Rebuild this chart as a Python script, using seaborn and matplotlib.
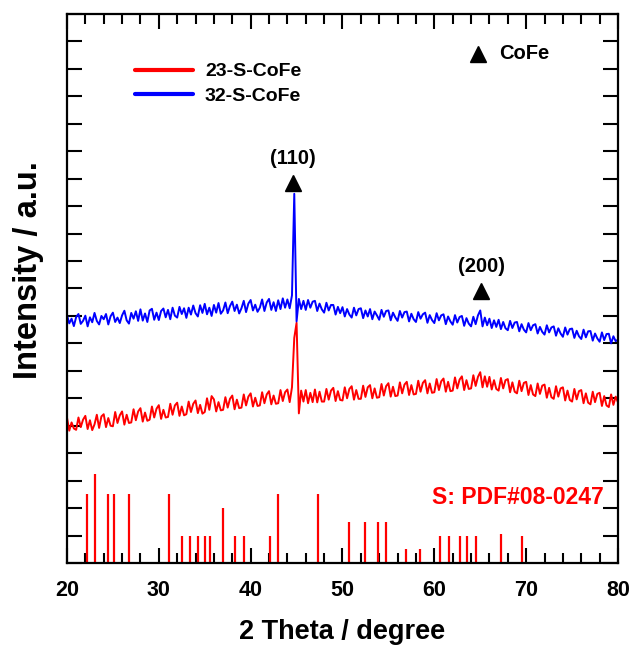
import numpy as np
import pandas as pd
import matplotlib
matplotlib.use("Agg")
import matplotlib.pyplot as plt
import seaborn as sns
from matplotlib.ticker import MultipleLocator, NullFormatter

# ---------------- data ----------------
two_theta = np.round(np.arange(20.0, 80.001, 0.25), 2)

blue_32 = [
    9.03, 8.73, 8.90, 8.63,  8.96, 9.07, 8.71, 8.82,  9.01, 8.62, 8.95, 8.77,
    9.11, 8.82, 8.69, 9.00,  8.88, 9.07, 8.69, 8.99,  9.12, 8.78, 8.94, 8.74,
    9.02, 9.19, 8.84, 8.72,  9.11, 8.90, 9.17, 8.82,  9.24, 8.83, 9.09, 8.78,
    9.20, 9.26, 8.86, 9.12,  8.85, 9.18, 9.27, 8.95,  9.22, 8.88, 9.30, 9.01,
    8.94, 9.33, 9.07, 9.28,  8.93, 9.30, 9.05, 9.38,  9.10, 8.98, 9.39, 9.11,
    9.44, 9.06, 9.30, 9.00,  9.40, 9.12, 9.47, 9.08,  9.20, 9.49, 9.10, 9.36,
    9.52, 9.18, 9.41, 9.09,  9.28, 9.55, 9.14, 9.45,  9.58, 9.20, 9.41, 9.15,
    9.30, 9.60, 9.18, 9.49,  9.62, 9.22, 9.50, 9.18,  9.57, 9.25, 9.64, 9.30,
    9.60, 9.28, 9.75, 13.45, 8.80, 9.62, 9.25, 9.55,  9.22, 9.58, 9.30, 9.52,
    9.55, 9.18, 9.45, 9.24,  9.12, 9.48, 9.20, 9.40,  9.40, 9.05, 9.33, 9.10,
    9.32, 8.98, 9.25, 9.05,  8.94, 9.30, 9.02, 9.25,  9.28, 8.92, 9.20, 8.98,
    9.25, 8.88, 9.16, 9.02,  8.86, 9.22, 8.97, 9.18,  9.20, 8.84, 9.12, 8.95,
    8.82, 9.18, 8.94, 9.14,  9.16, 8.80, 9.08, 8.88,  8.78, 9.14, 8.90, 9.06,
    9.12, 8.75, 9.03, 8.85,  8.74, 9.10, 8.84, 9.02,  9.06, 8.70, 8.98, 8.80,
    8.68, 9.03, 8.76, 8.96,  9.00, 8.64, 8.92, 8.72,  8.62, 8.97, 8.70, 9.02,
    9.20, 8.62, 8.94, 8.66,  8.90, 8.56, 8.84, 8.60,  8.86, 8.52, 8.78, 8.55,
    8.48, 8.82, 8.56, 8.76,  8.78, 8.44, 8.70, 8.50,  8.40, 8.74, 8.48, 8.66,
    8.70, 8.36, 8.60, 8.42,  8.32, 8.66, 8.40, 8.58,  8.62, 8.28, 8.55, 8.36,
    8.24, 8.58, 8.32, 8.52,  8.54, 8.20, 8.46, 8.26,  8.16, 8.50, 8.22, 8.44,
    8.45, 8.10, 8.36, 8.18,  8.06, 8.40, 8.12, 8.34,  8.35, 8.00, 8.26, 8.08,
    8.14,
]

red_23 = [
    5.30, 4.82, 5.12, 4.90,  4.85, 5.30, 4.95, 5.22,  5.36, 4.88, 5.20, 4.84,
    5.05, 5.40, 4.92, 5.34,  5.42, 4.95, 5.28, 5.00,  4.98, 5.50, 5.10, 5.38,
    5.52, 5.04, 5.40, 5.10,  5.12, 5.60, 5.20, 5.52,  5.64, 5.15, 5.48, 5.18,
    5.22, 5.70, 5.30, 5.62,  5.75, 5.25, 5.58, 5.30,  5.32, 5.80, 5.40, 5.74,
    5.84, 5.36, 5.70, 5.38,  5.42, 5.88, 5.50, 5.80,  5.92, 5.46, 5.76, 5.44,
    5.50, 6.00, 5.58, 6.08,  5.96, 5.52, 5.86, 5.56,  5.58, 6.04, 5.66, 5.98,
    6.10, 5.60, 5.95, 5.64,  5.66, 6.14, 5.74, 6.06,  6.18, 5.70, 6.02, 5.72,
    5.74, 6.22, 5.82, 6.14,  6.26, 5.78, 6.10, 5.80,  5.82, 6.30, 5.90, 6.22,
    6.32, 5.86, 6.40, 8.20,  8.75, 5.45, 6.28, 5.88,  6.30, 5.82, 6.20, 5.86,
    6.32, 5.85, 6.24, 5.88,  5.88, 6.34, 5.95, 6.28,  6.38, 5.90, 6.26, 5.94,
    5.92, 6.40, 6.00, 6.34,  6.44, 5.95, 6.30, 5.98,  5.98, 6.46, 6.05, 6.40,
    6.48, 6.00, 6.36, 6.02,  6.04, 6.52, 6.10, 6.44,  6.55, 6.06, 6.42, 6.08,
    6.10, 6.58, 6.18, 6.50,  6.60, 6.12, 6.48, 6.14,  6.16, 6.64, 6.24, 6.56,
    6.66, 6.18, 6.54, 6.20,  6.22, 6.70, 6.30, 6.62,  6.72, 6.24, 6.60, 6.26,
    6.28, 6.76, 6.36, 6.68,  6.80, 6.30, 6.66, 6.34,  6.36, 6.84, 6.45, 6.78,
    6.95, 6.40, 6.80, 6.42,  6.78, 6.32, 6.66, 6.34,  6.28, 6.74, 6.36, 6.66,
    6.70, 6.22, 6.58, 6.24,  6.18, 6.64, 6.26, 6.56,  6.60, 6.12, 6.48, 6.14,
    6.08, 6.54, 6.16, 6.46,  6.50, 6.02, 6.38, 6.04,  5.98, 6.44, 6.06, 6.36,
    6.40, 5.92, 6.28, 5.94,  5.88, 6.34, 5.96, 6.26,  6.30, 5.82, 6.18, 5.84,
    5.78, 6.24, 5.86, 6.16,  6.20, 5.72, 6.08, 5.74,  5.68, 6.14, 5.76, 6.06,
    5.85,
]

# Reference pattern S: PDF#08-0247 (position, height)
pdf_pos = [22.17, 23.0, 24.47, 25.14, 26.72, 31.1, 32.5, 33.36, 34.27, 35.02,
           35.61, 36.96, 38.3, 39.29, 42.06, 42.96, 47.31, 50.75, 52.45, 53.91,
           54.78, 56.88, 58.46, 60.63, 61.62, 62.81, 63.6, 64.58, 67.27, 69.53]
pdf_h = [2.5, 3.23, 2.5, 2.5, 2.5, 2.5, 1.0, 1.0, 1.0, 1.0,
         1.0, 2.0, 1.0, 1.0, 1.0, 2.5, 2.5, 1.5, 1.5, 1.5,
         1.5, 0.5, 0.5, 1.0, 1.0, 1.0, 1.0, 1.0, 1.05, 1.0]

sample_names = ["23-S-CoFe", "32-S-CoFe"]
peak_labels = ["(110)", "(200)"]
peak_x = [44.65, 65.1]
peak_marker_y = [13.85, 9.9]

assert len(blue_32) == len(two_theta) and len(red_23) == len(two_theta)

df = pd.DataFrame({
    "two_theta": np.concatenate([two_theta, two_theta]),
    "intensity": np.concatenate([red_23, blue_32]),
    "sample": [sample_names[0]] * len(two_theta) + [sample_names[1]] * len(two_theta),
})

# ---------------- style ----------------
sns.set_style("ticks")
plt.rcParams['font.family'] = ['Liberation Sans', 'DejaVu Sans']
plt.rcParams['font.weight'] = 'bold'
plt.rcParams['axes.labelweight'] = 'bold'
plt.rcParams['text.color'] = 'black'
plt.rcParams['axes.labelcolor'] = 'black'
plt.rcParams['xtick.color'] = 'black'
plt.rcParams['ytick.color'] = 'black'
plt.rcParams['xtick.labelcolor'] = 'black'
plt.rcParams['axes.edgecolor'] = 'black'

fig = plt.figure(figsize=(6.33, 6.48), dpi=100)
ax = fig.add_axes([0.1058, 0.1312, 0.8705, 0.8472])

palette = {sample_names[0]: "#ff0000", sample_names[1]: "#0000ff"}
sns.lineplot(data=df, x="two_theta", y="intensity", hue="sample",
             palette=palette, linewidth=1.4, ax=ax, estimator=None, sort=False)

ax.vlines(pdf_pos, 0, pdf_h, colors="#ff0000", linewidth=1.6)

ax.set_xlim(20, 80)
ax.set_ylim(0, 20)
ax.xaxis.set_major_locator(MultipleLocator(10))
ax.xaxis.set_minor_locator(MultipleLocator(2))
ax.yaxis.set_major_locator(MultipleLocator(1))
ax.yaxis.set_major_formatter(NullFormatter())
ax.tick_params(which='both', direction='in', top=True, right=True, width=1.5,
               color='black', labelcolor='black')
ax.tick_params(which='major', length=11, labelsize=15.5, pad=12)
ax.tick_params(which='minor', length=7)
for sp in ax.spines.values():
    sp.set_linewidth(1.6)
    sp.set_color('black')

ax.set_xlabel("2 Theta / degree", fontsize=19.5, fontweight='bold', labelpad=13, color='black')
ax.set_ylabel("Intensity / a.u.", fontsize=23.5, fontweight='bold', color='black')
ax.yaxis.set_label_coords(-0.042, 0.534)

# peak markers and labels
ax.plot(peak_x, peak_marker_y, linestyle='none', marker='^', color='black', markersize=11)
for lx, ly, lab in zip(peak_x, peak_marker_y, peak_labels):
    ax.text(lx, ly + 0.55, lab, ha='center', va='bottom', fontsize=14.5,
            fontweight='bold', color='black')

# phase key
ax.plot([64.8], [18.55], linestyle='none', marker='^', color='black', markersize=11)
ax.text(67.1, 18.55, "CoFe", ha='left', va='center', fontsize=14.5,
        fontweight='bold', color='black')

ax.text(78.5, 2.4, "S: PDF#08-0247", ha='right', va='center', fontsize=16.5,
        fontweight='bold', color='#ff0000')

handles, labels = ax.get_legend_handles_labels()
leg = ax.legend(handles, labels, loc='center left', bbox_to_anchor=(0.1234, 0.873),
                frameon=False, fontsize=14, handlelength=3.0, handletextpad=0.6,
                labelspacing=0.35, borderpad=0, borderaxespad=0, labelcolor='black')
for h in leg.get_lines():
    h.set_linewidth(3)

fig.savefig("out.png", dpi=100)
